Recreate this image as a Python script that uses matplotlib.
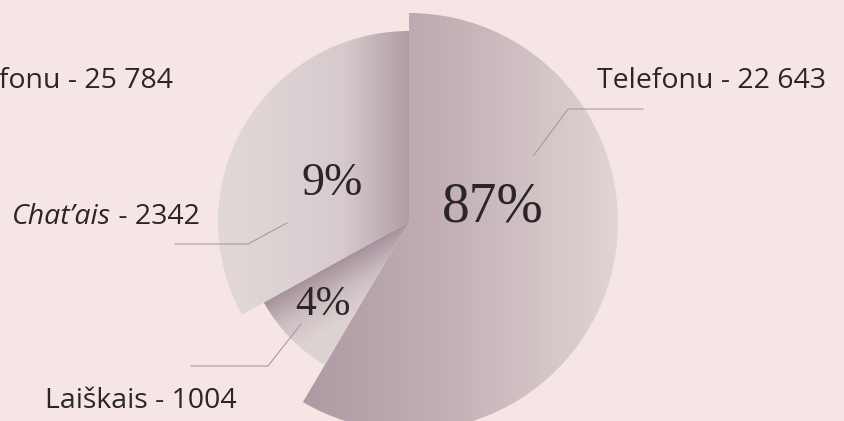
import numpy as np
import matplotlib
matplotlib.use('Agg')
import matplotlib.pyplot as plt
from matplotlib.colors import LinearSegmentedColormap

# dados do gráfico
kanalai = ['Telefonu', 'Laiškais', "Chat’ais"]
kiekiai = ['22 643', '1004', '2342']
procentai = ['87%', '4%', '9%']
# dalis apskritimo, kokia nupiešta paveiksle (laipsniais)
nupiesta = [210.5, 30.5, 119.0]
spinduliai = [209, 166, 191]
viso_tekstas = 'Telefonu - 25 784'

W, H = 845, 421
bg = '#f6e5e5'
txt = '#2a2628'
line_c = '#a89aa1'

fig = plt.figure(figsize=(W / 100, H / 100), dpi=100)
fig.patch.set_facecolor(bg)
ax = fig.add_axes([0, 0, 1, 1])
ax.set_facecolor(bg)

cx, cy = 409, H - 222

wedges, _ = ax.pie(nupiesta, startangle=90, counterclock=False,
                   center=(cx, cy), radius=1, frame=True,
                   wedgeprops=dict(linewidth=0))
ax.set_xlim(0, W)
ax.set_ylim(0, H)
ax.set_aspect('equal')
ax.axis('off')

# gradientai kiekvienam sektoriui
grad_cols = [
    ['#ad99a2', '#c4b2b7', '#e1d4d4'],
    ['#a6919c', '#cbbec1', '#ddd2d2'],
    ['#e1d7d7', '#d6cacc', '#b09ca5'],
]
xx, yy = np.meshgrid(np.arange(W) + 0.5, np.arange(H) + 0.5)
for i, w in enumerate(wedges):
    w.set_radius(spinduliai[i])
    w.set_facecolor('none')
    cmap = LinearSegmentedColormap.from_list('g%d' % i, grad_cols[i])
    if i == 0:
        t = (xx - 300) / (617 - 300)
    elif i == 2:
        t = ((xx - 218) / (409 - 218)) ** 1.6
    else:
        a = np.deg2rad(209)
        n = np.array([-np.sin(a), np.cos(a)])
        t = ((xx - cx) * n[0] + (yy - cy) * n[1]) / 55
    t = np.clip(t, 0, 1)
    im = ax.imshow(t, cmap=cmap, extent=(0, W, 0, H), origin='lower',
                   vmin=0, vmax=1, interpolation='bilinear', zorder=1)
    im.set_clip_path(w)

# procentai
pct_pos = [(493, 208, 40), (323, 305, 30), (332, 184, 33)]
for p, (x, y, s) in zip(procentai, pct_pos):
    ax.text(x, H - y, p, ha='center', va='center', fontsize=s,
            family='Liberation Serif', color=txt, zorder=5)

# linijos
leaders = [
    [(534, 155), (568, 109), (643, 109)],
    [(301, 324), (268, 366), (191, 366)],
    [(287, 223), (248, 244), (175, 244)],
]
for pts in leaders:
    xs = [p[0] for p in pts]
    ys = [H - p[1] for p in pts]
    ax.plot(xs, ys, color=line_c, lw=0.8, zorder=4)

fs = 20.5
font = 'Open Sans'
ax.text(597, H - 88, f'{kanalai[0]} - {kiekiai[0]}', ha='left', va='baseline',
        fontsize=fs, family=font, color=txt)
ax.text(173, H - 88, viso_tekstas, ha='right', va='baseline',
        fontsize=fs, family=font, color=txt)
ax.text(45, H - 408, f'{kanalai[1]} - {kiekiai[1]}', ha='left', va='baseline',
        fontsize=fs, family=font, color=txt)
t2 = ax.text(200, H - 224, f' - {kiekiai[2]}', ha='right', va='baseline',
             fontsize=fs, family=font, color=txt)
fig.canvas.draw()
bb = t2.get_window_extent()
ax.text(bb.x0, H - 224, kanalai[2], ha='right', va='baseline',
        fontsize=fs, family=font, style='italic', color=txt)

fig.savefig('out.png', dpi=100, facecolor=bg)
